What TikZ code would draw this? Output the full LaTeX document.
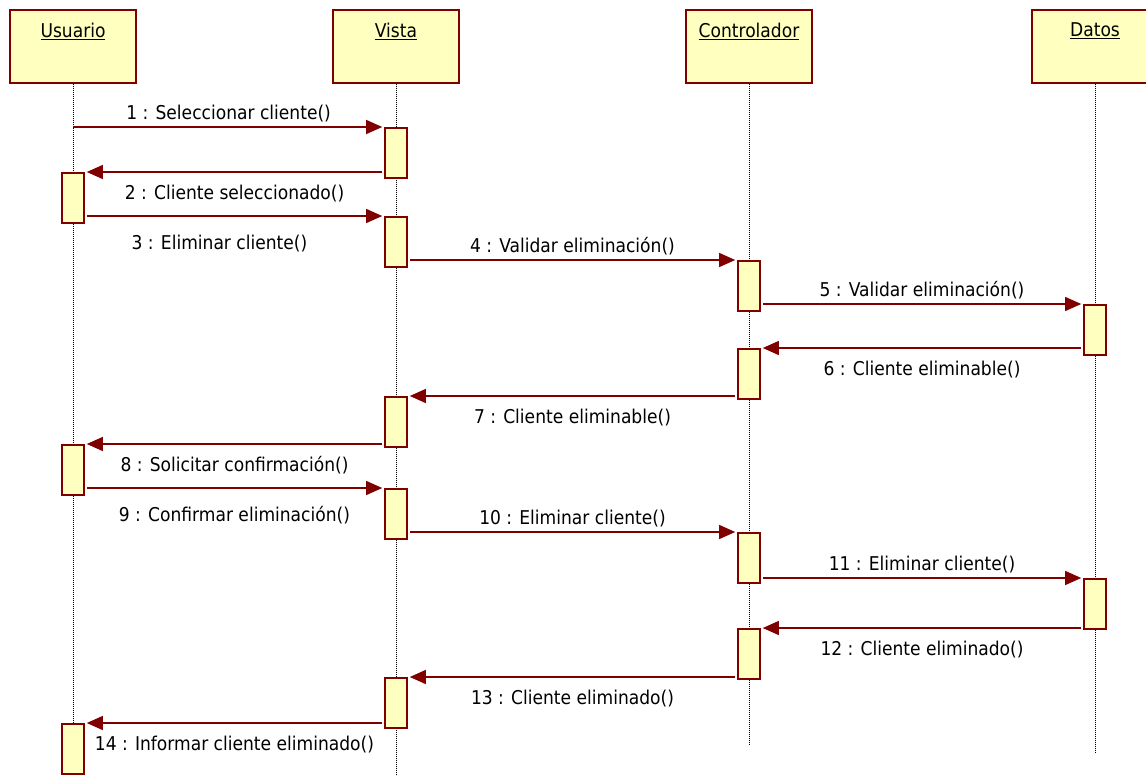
\documentclass[tikz,border=0pt]{standalone}
\usepackage{fontspec}
\setmainfont{DejaVu Sans Condensed}
\usetikzlibrary{arrows.meta}
\definecolor{umlred}{RGB}{128,0,0}
\definecolor{umlfill}{RGB}{255,255,192}
\begin{document}
\begin{tikzpicture}[x=1pt,y=-1pt,
  obj/.style={draw=umlred, line width=1.6pt, fill=umlfill, minimum width=126pt, minimum height=73pt, anchor=north, inner sep=0pt},
  act/.style={draw=umlred, line width=1.6pt, fill=umlfill, minimum width=22pt, minimum height=50pt, anchor=north, inner sep=0pt},
  life/.style={densely dotted, line width=1pt, black},
  msg/.style={draw=umlred, line width=1.3pt, shorten <=2pt, shorten >=2pt, -{Triangle[length=16pt,width=14pt]}},
  lbl/.style={font=\fontsize{19}{21}\selectfont, text=black, inner sep=0pt},
  up/.style={lbl, midway, above=4pt},
  down/.style={lbl, midway, below=12pt},
  downlow/.style={lbl, midway, below=18pt}
]
\useasboundingbox (0,0) rectangle (1146,776);

% object heads
\node[obj] (usr) at (73,9) {};
\node[obj] (vis) at (396,9) {};
\node[obj] (ctl) at (749,9) {};
\node[obj] (dat) at (1095,9) {};
\node[lbl] (usrT) at (usr.north |- 0,31) {\underline{Usuario}};
\node[lbl] (visT) at (vis.north |- 0,31) {\underline{Vista}};
\node[lbl] (ctlT) at (ctl.north |- 0,31) {\underline{Controlador}};
\node[lbl] (datT) at (dat.north |- 0,31) {\underline{Datos}};

% lifelines
\coordinate (usrE) at (usr.south |- 0,776);
\coordinate (visE) at (vis.south |- 0,776);
\coordinate (ctlE) at (ctl.south |- 0,745);
\coordinate (datE) at (dat.south |- 0,752);
\draw[life] (usr.south) -- (usrE);
\draw[life] (vis.south) -- (visE);
\draw[life] (ctl.south) -- (ctlE);
\draw[life] (dat.south) -- (datE);

% activations
\node[act] (u1) at (73,172) {};
\node[act] (u2) at (73,444) {};
\node[act] (u3) at (73,723) {};
\node[act] (v1) at (396,127) {};
\node[act] (v2) at (396,216) {};
\node[act] (v3) at (396,396) {};
\node[act] (v4) at (396,488) {};
\node[act] (v5) at (396,677) {};
\node[act] (c1) at (749,260) {};
\node[act] (c2) at (749,348) {};
\node[act] (c3) at (749,532) {};
\node[act] (c4) at (749,628) {};
\node[act] (d1) at (1095,304) {};
\node[act] (d2) at (1095,578) {};

% messages
\draw[msg, shorten <=0pt] (usr.south |- v1.north) -- (v1.north west) node[up] {1 : Seleccionar cliente()};
\draw[msg] (v1.west |- u1.north) -- (u1.north east) node[down] {2 : Cliente seleccionado()};
\draw[msg] (u1.east |- v2.north) -- (v2.north west) node[downlow, xshift=-15pt] {3 : Eliminar cliente()};
\draw[msg] (v2.east |- c1.north) -- (c1.north west) node[up] {4 : Validar eliminación()};
\draw[msg] (c1.east |- d1.north) -- (d1.north west) node[up] {5 : Validar eliminación()};
\draw[msg] (d1.west |- c2.north) -- (c2.north east) node[down] {6 : Cliente eliminable()};
\draw[msg] (c2.west |- v3.north) -- (v3.north east) node[down] {7 : Cliente eliminable()};
\draw[msg] (v3.west |- u2.north) -- (u2.north east) node[down] {8 : Solicitar confirmación()};
\draw[msg] (u2.east |- v4.north) -- (v4.north west) node[downlow] {9 : Confirmar eliminación()};
\draw[msg] (v4.east |- c3.north) -- (c3.north west) node[up] {10 : Eliminar cliente()};
\draw[msg] (c3.east |- d2.north) -- (d2.north west) node[up] {11 : Eliminar cliente()};
\draw[msg] (d2.west |- c4.north) -- (c4.north east) node[down] {12 : Cliente eliminado()};
\draw[msg] (c4.west |- v5.north) -- (v5.north east) node[down] {13 : Cliente eliminado()};
\draw[msg] (v5.west |- u3.north) -- (u3.north east) node[down] {14 : Informar cliente eliminado()};
\end{tikzpicture}
\end{document}
